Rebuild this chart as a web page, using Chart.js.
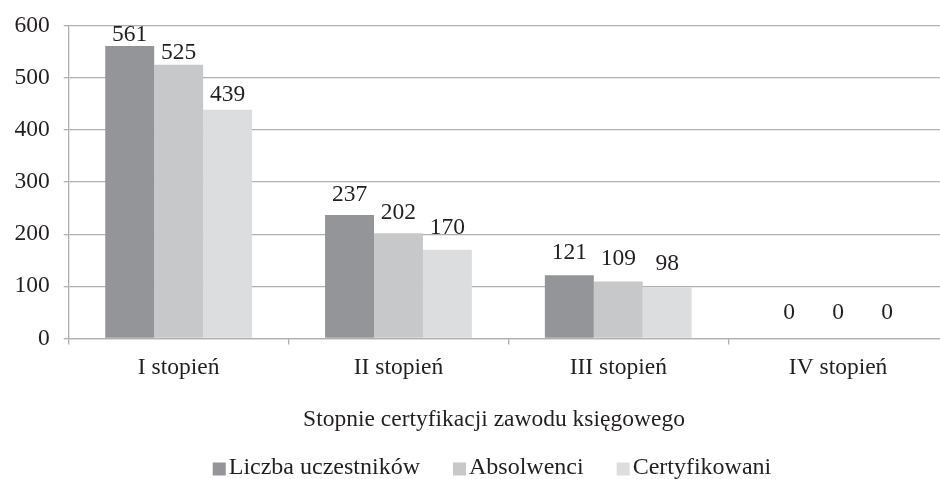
<!DOCTYPE html>
<html>
<head>
<meta charset="utf-8">
<script src="https://cdn.jsdelivr.net/npm/chart.js@4/dist/chart.umd.min.js"></script>
<style>
html,body{margin:0;padding:0;background:#fff;overflow:hidden;}
#wrap{width:984px;height:479px;}
</style>
</head>
<body>
<div id="wrap"><canvas id="c" width="984" height="479"></canvas></div>
<script>
const categories = ["I stopień", "II stopień", "III stopień", "IV stopień"];
const seriesNames = ["Liczba uczestników", "Absolwenci", "Certyfikowani"];
const uczestnicy = [561, 237, 121, 0];
const absolwenci = [525, 202, 109, 0];
const certyfikowani = [439, 170, 98, 0];
const yTicks = [0, 100, 200, 300, 400, 500, 600];
const axisTitle = "Stopnie certyfikacji zawodu księgowego";

const colors = ["#939598", "#c7c8ca", "#dcdddf"];
const FONT = "'Liberation Serif', 'Times New Roman', serif";
const TXT = "#231f20";

const valueLabels = {
  id: 'valueLabels',
  afterDatasetsDraw(chart) {
    const ctx = chart.ctx;
    ctx.save();
    ctx.font = "23.5px " + FONT;
    ctx.fillStyle = TXT;
    ctx.textAlign = 'center';
    ctx.textBaseline = 'middle';
    chart.data.datasets.forEach((ds, i) => {
      const meta = chart.getDatasetMeta(i);
      meta.data.forEach((el, j) => {
        const h = el.base - el.y;
        const off = 26 - 0.05 * h;
        ctx.fillText(String(ds.data[j]), el.x, el.y - off);
      });
    });
    ctx.restore();
  }
};

const titleAndLegend = {
  id: 'titleAndLegend',
  afterDraw(chart) {
    const ctx = chart.ctx;
    ctx.save();
    ctx.textBaseline = 'middle';
    ctx.fillStyle = TXT;
    ctx.font = "23.5px " + FONT;
    ctx.textAlign = 'center';
    ctx.fillText(axisTitle, chart.width / 2 + 2, 420);

    ctx.font = "24px " + FONT;
    ctx.textAlign = 'left';
    const box = 13, gap = 3, itemGap = 33;
    const items = chart.data.datasets.map(d => ({label: d.label, color: d.backgroundColor, w: ctx.measureText(d.label).width}));
    let total = 0;
    items.forEach((it, k) => { total += box + gap + it.w + (k < items.length - 1 ? itemGap : 0); });
    let x = chart.width / 2 - total / 2;
    const y = 468;
    items.forEach(it => {
      ctx.fillStyle = it.color;
      ctx.fillRect(x, y - box / 2 + 1, box, box);
      ctx.fillStyle = TXT;
      ctx.fillText(it.label, x + box + gap, y);
      x += box + gap + it.w + itemGap;
    });
    ctx.restore();
  }
};

new Chart(document.getElementById('c'), {
  type: 'bar',
  data: {
    labels: categories,
    datasets: [
      {label: seriesNames[0], data: uczestnicy, backgroundColor: colors[0]},
      {label: seriesNames[1], data: absolwenci, backgroundColor: colors[1]},
      {label: seriesNames[2], data: certyfikowani, backgroundColor: colors[2]}
    ]
  },
  options: {
    responsive: false,
    animation: false,
    devicePixelRatio: 1,
    layout: {padding: {top: 23.5, left: 0.5, right: 36, bottom: 87}},
    datasets: {bar: {barPercentage: 1, categoryPercentage: 0.668, borderWidth: 0}},
    plugins: {legend: {display: false}, tooltip: {enabled: false}},
    scales: {
      x: {
        grid: {offset: true, drawOnChartArea: false, drawTicks: true, tickLength: 6, color: '#b0b0b0', lineWidth: 1.3},
        border: {display: true, color: '#b0b0b0', width: 1.3},
        ticks: {font: {family: FONT, size: 23.5}, color: TXT, padding: 9.7}
      },
      y: {
        min: 0, max: 600,
        afterBuildTicks(scale) { scale.ticks = yTicks.map(v => ({value: v})); },
        grid: {color: '#b0b0b0', lineWidth: 1.3, tickLength: 5, drawTicks: true},
        border: {display: true, color: '#b0b0b0', width: 1.3},
        ticks: {font: {family: FONT, size: 23.5, lineHeight: 1}, color: TXT, padding: 14}
      }
    }
  },
  plugins: [valueLabels, titleAndLegend]
});
</script>
</body>
</html>
